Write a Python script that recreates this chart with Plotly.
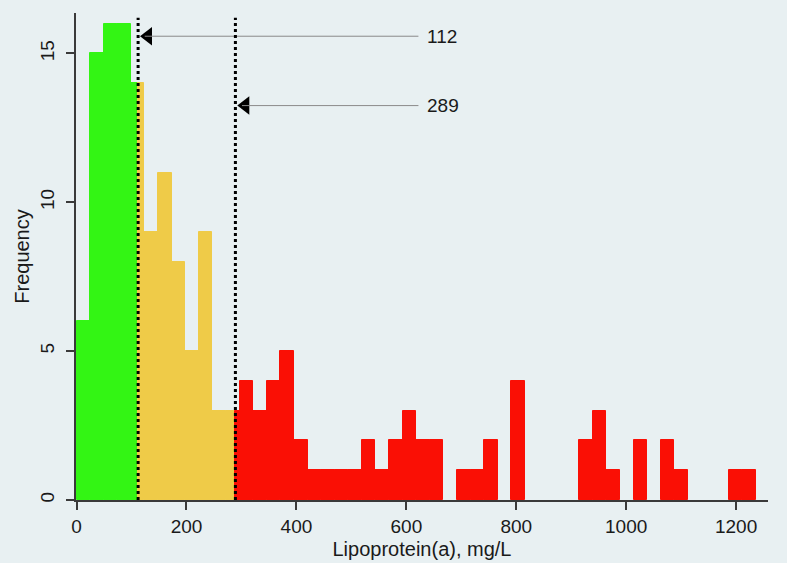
import plotly.graph_objects as go

# ---- data ----
bin_start = 0.0
bin_width = 24.72
counts = [6, 15, 16, 16, 14, 9, 11, 8, 5, 9,
          3, 3, 4, 3, 4, 5, 2, 1, 1, 1,
          1, 2, 1, 2, 3, 2, 2, 0, 1, 1,
          2, 0, 4, 0, 0, 0, 0, 2, 3, 1,
          0, 2, 0, 2, 1, 0, 0, 0, 1, 1]
cutoffs = [112, 289]
cutoff_labels = ["112", "289"]
group_colors = ["#33F514", "#EFCB48", "#FA0F05"]
x_ticks = [0, 200, 400, 600, 800, 1000, 1200]
y_ticks = [0, 5, 10, 15]

BG = "#E8F0F2"
TXT = "#1a1a1a"
AX = "#3a3a3a"
FONT = "Liberation Sans, Arial, sans-serif"

# split each bin into colored pieces at the cutoffs
bounds = [-1e9] + cutoffs + [1e9]
pieces = [dict(x=[], w=[], y=[]) for _ in group_colors]
for i, c in enumerate(counts):
    if c <= 0:
        continue
    l = bin_start + i * bin_width
    r = l + bin_width
    for g in range(len(group_colors)):
        lo = max(l, bounds[g]); hi = min(r, bounds[g + 1])
        if hi > lo:
            pieces[g]["x"].append((lo + hi) / 2)
            pieces[g]["w"].append(hi - lo)
            pieces[g]["y"].append(c)

fig = go.Figure()
for g, col in enumerate(group_colors):
    fig.add_trace(go.Bar(x=pieces[g]["x"], y=pieces[g]["y"], width=pieces[g]["w"],
                         marker=dict(color=col, line=dict(color=col, width=1)),
                         showlegend=False, hoverinfo="skip"))

ymax = 16.36
arrow_y = [15.58, 13.25]
label_x = 634
for k, (cx, lab) in enumerate(zip(cutoffs, cutoff_labels)):
    # dotted vertical line
    fig.add_shape(type="line", x0=cx, x1=cx, y0=0, y1=16.2, xref="x", yref="y",
                  line=dict(color="black", width=3, dash="dot"), layer="above")
    # gray arrow shaft
    fig.add_shape(type="line", x0=cx + 12, x1=label_x - 12, y0=arrow_y[k], y1=arrow_y[k],
                  xref="x", yref="y", line=dict(color="#8a8a8a", width=1), layer="above")
    fig.add_annotation(x=label_x, y=arrow_y[k], text=lab, showarrow=False,
                       xanchor="left", yanchor="middle",
                       font=dict(family=FONT, size=19, color=TXT))

fig.add_trace(go.Scatter(x=[c + 18 for c in cutoffs], y=arrow_y, mode="markers",
                         marker=dict(symbol="triangle-left", size=16, color="black",
                                     line=dict(width=0)),
                         showlegend=False, hoverinfo="skip"))

fig.update_layout(
    width=787, height=563, autosize=False,
    margin=dict(l=76, r=19, t=13, b=63, autoexpand=False),
    paper_bgcolor=BG, plot_bgcolor=BG,
    bargap=0,
    font=dict(family=FONT, size=19, color=TXT),
    xaxis=dict(range=[-1, 1258], tickvals=x_ticks, ticktext=[str(v) for v in x_ticks],
               showgrid=False, zeroline=False, showline=True, linecolor=AX, linewidth=1.5,
               ticks="outside", ticklen=8, tickcolor=AX, tickwidth=1.5,
               tickfont=dict(family=FONT, size=19, color=TXT),
               title=dict(text="Lipoprotein(a), mg/L", font=dict(family=FONT, size=20, color=TXT),
                          standoff=6)),
    yaxis=dict(range=[0, ymax], tickvals=y_ticks, ticktext=[str(v) for v in y_ticks],
               showgrid=False, zeroline=False, showline=True, linecolor=AX, linewidth=1.5,
               ticks="outside", ticklen=8, tickcolor=AX, tickwidth=1.5, tickangle=-90,
               ticklabelstandoff=5,
               tickfont=dict(family=FONT, size=19, color=TXT),
               title=dict(text="Frequency", font=dict(family=FONT, size=20, color=TXT),
                          standoff=2)),
)

fig.write_html("out.html", post_script="document.body.style.margin='0';",
               config={"displayModeBar": False})
